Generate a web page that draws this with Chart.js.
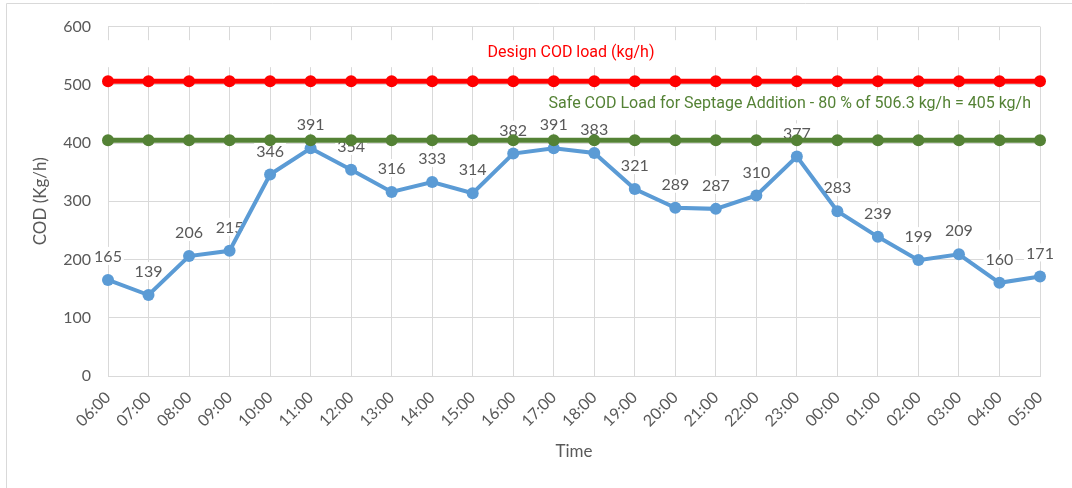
<!DOCTYPE html>
<html>
<head>
<meta charset="utf-8">
<title>COD load</title>
<script src="https://cdn.jsdelivr.net/npm/chart.js@4.4.1/dist/chart.umd.min.js"></script>
<style>
  html, body { margin: 0; padding: 0; background: #ffffff; }
  #wrap { width: 1072px; height: 488px; position: relative; }
</style>
</head>
<body>
<div id="wrap"><canvas id="cod-chart"></canvas></div>
<script>
// --- ข้อมูล ---
const HOURS = [
    "06:00", "07:00", "08:00", "09:00", "10:00", "11:00", "12:00", "13:00",
    "14:00", "15:00", "16:00", "17:00", "18:00", "19:00", "20:00", "21:00",
    "22:00", "23:00", "00:00", "01:00", "02:00", "03:00", "04:00", "05:00"
];
const COD_LOAD = [
    165, 139, 206, 215, 346, 391, 354, 316, 333, 314, 382, 391,
    383, 321, 289, 287, 310, 377, 283, 239, 199, 209, 160, 171
];
const DESIGN_LOAD = 506.3;
const SAFE_LOAD = 405;
const DESIGN_TEXT = "Design COD load (kg/h)";
const SAFE_TEXT = "Safe COD Load for Septage Addition - 80 % of 506.3 kg/h = 405 kg/h";
const Y_TICKS = [0, 100, 200, 300, 400, 500, 600];

// --- สี/ฟอนต์ ---
const GREY_TEXT = '#595959';
const GRID = '#d9d9d9';
const RED = '#ff0000';
const GREEN = '#548235';
const BLUE = '#5b9bd5';
const FONT = 'Lato, "Open Sans", sans-serif';

const designSeries = HOURS.map(() => DESIGN_LOAD);
const safeSeries = HOURS.map(() => SAFE_LOAD);

/**
 * กรอบรอบกราฟ (ด้านซ้ายและด้านบน)
 */
const framePlugin = {
    id: 'frame',
    beforeDraw(chart) {
        const ctx = chart.ctx;
        ctx.save();
        ctx.strokeStyle = GRID;
        ctx.lineWidth = 1;
        ctx.beginPath();
        ctx.moveTo(6.5, chart.height);
        ctx.lineTo(6.5, 3.5);
        ctx.lineTo(chart.width, 3.5);
        ctx.stroke();
        ctx.restore();
    }
};

/**
 * ข้อความกำกับเส้น Design / Safe และป้ายตัวเลข (วาดก่อนเส้น ให้เส้นทับได้)
 */
const notePlugin = {
    id: 'notes',
    beforeDatasetsDraw(chart) {
        const ctx = chart.ctx;
        const area = chart.chartArea;
        const y = chart.scales.y;
        ctx.save();
        ctx.font = '16px Roboto, sans-serif';
        ctx.textBaseline = 'middle';

        // Design COD load - กล่องขาวกว้างเต็มพื้นที่กราฟ
        const dY = y.getPixelForValue(DESIGN_LOAD) - 28;
        ctx.fillStyle = '#ffffff';
        ctx.fillRect(area.left - 2, dY - 13, area.width - 4, 27);
        ctx.fillStyle = RED;
        ctx.textAlign = 'center';
        ctx.fillText(DESIGN_TEXT, (area.left + area.right) / 2 - 3, dY);

        // Safe COD load - ชิดขวา
        const sY = y.getPixelForValue(SAFE_LOAD) - 36;
        const w = ctx.measureText(SAFE_TEXT).width;
        const xr = area.right - 9;
        ctx.fillStyle = '#ffffff';
        ctx.fillRect(xr - w - 4, sY - 14, w + 8, 30);
        ctx.fillStyle = GREEN;
        ctx.textAlign = 'right';
        ctx.fillText(SAFE_TEXT, xr, sY);

        // ป้ายตัวเลขเหนือจุดของเส้นสีฟ้า
        const meta = chart.getDatasetMeta(2);
        ctx.font = '16px ' + FONT;
        ctx.textAlign = 'center';
        meta.data.forEach((pt, i) => {
            const txt = String(COD_LOAD[i]);
            const tw = ctx.measureText(txt).width;
            const cy = pt.y - 24;
            ctx.fillStyle = '#ffffff';
            ctx.fillRect(pt.x - tw / 2 - 2, cy - 9, tw + 4, 18);
            ctx.fillStyle = GREY_TEXT;
            ctx.fillText(txt, pt.x, cy + 1);
        });
        ctx.restore();
    }
};

const ctx = document.getElementById('cod-chart').getContext('2d');
const myChart = new Chart(ctx, {
    type: 'line',
    data: {
        labels: HOURS,
        datasets: [
            {
                label: 'Design COD load (kg/h)',
                data: designSeries,
                borderColor: RED,
                backgroundColor: RED,
                borderWidth: 5,
                pointRadius: 6,
                pointBorderWidth: 0,
                pointBackgroundColor: RED
            },
            {
                label: 'Safe COD load',
                data: safeSeries,
                borderColor: GREEN,
                backgroundColor: GREEN,
                borderWidth: 5,
                pointRadius: 6,
                pointBorderWidth: 0,
                pointBackgroundColor: GREEN
            },
            {
                label: 'COD',
                data: COD_LOAD,
                borderColor: BLUE,
                backgroundColor: BLUE,
                borderWidth: 4,
                pointRadius: 6,
                pointBorderWidth: 0,
                pointBackgroundColor: BLUE
            }
        ]
    },
    options: {
        responsive: true,
        maintainAspectRatio: false,
        animation: false,
        layout: { padding: { top: 25, right: 32, left: 0, bottom: 0 } },
        plugins: {
            legend: { display: false },
            tooltip: { enabled: false }
        },
        scales: {
            x: {
                offset: false,
                afterFit(scale) { scale.height = 112; },
                grid: { color: GRID, drawTicks: false },
                border: { color: GRID },
                ticks: {
                    color: GREY_TEXT,
                    font: { family: FONT, size: 16 },
                    minRotation: 45,
                    maxRotation: 45,
                    padding: 12,
                    autoSkip: false
                },
                title: {
                    display: true,
                    text: 'Time',
                    color: GREY_TEXT,
                    font: { family: FONT, size: 17 },
                    padding: { top: 0, bottom: 26 }
                }
            },
            y: {
                min: 0,
                max: 600,
                afterFit(scale) { scale.width = 108; },
                afterBuildTicks(scale) { scale.ticks = Y_TICKS.map(v => ({ value: v })); },
                grid: { color: GRID, drawTicks: false },
                border: { display: false },
                ticks: {
                    color: GREY_TEXT,
                    font: { family: FONT, size: 16 },
                    padding: 17
                },
                title: {
                    display: true,
                    text: 'COD (Kg/h)',
                    color: GREY_TEXT,
                    font: { family: FONT, size: 17 },
                    padding: { top: 30, bottom: 0 }
                }
            }
        }
    },
    plugins: [framePlugin, notePlugin]
});
</script>
</body>
</html>
